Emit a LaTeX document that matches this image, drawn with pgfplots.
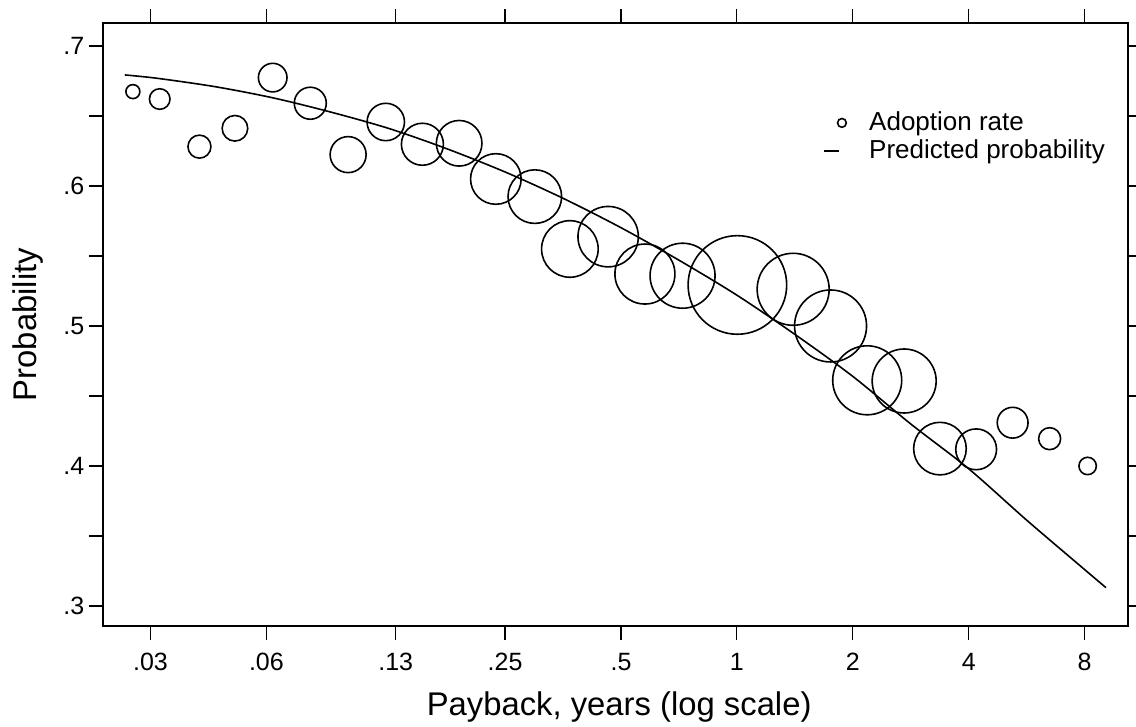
\documentclass[border=0pt]{standalone}
\usepackage{fontspec}
\setmainfont{Liberation Sans}
\usepackage{pgfplots}
\pgfplotsset{compat=1.18}
\usepackage{pgfplotstable}

\pgfplotstableread{
x y r
0.0270 0.6674 3.5
0.0317 0.6621 5.15
0.0402 0.6281 5.75
0.0497 0.6412 6.4
0.0623 0.6774 7.15
0.0780 0.6591 8.0
0.0978 0.6224 9.0
0.1225 0.6457 9.35
0.1525 0.6298 10.5
0.1900 0.6305 11.4
0.2366 0.6050 12.65
0.2987 0.5924 13.4
0.3684 0.5550 14.15
0.4631 0.5638 15.1
0.5770 0.5371 15.0
0.7227 0.5359 16.25
1.003 0.5293 24.65
1.400 0.5262 18.0
1.751 0.5000 18.0
2.180 0.4612 17.25
2.719 0.4607 16.0
3.368 0.4124 13.15
4.182 0.4119 10.2
5.202 0.4309 7.7
6.49 0.4195 5.5
8.146 0.4000 4.35
}\bubbles

\pgfplotstableread{
x y
0.02574 0.6793
0.03125 0.6769
0.04419 0.6709
0.0625 0.6629
0.08839 0.6527
0.125 0.6410
0.1768 0.6265
0.25 0.6100
0.3536 0.5912
0.5 0.5702
0.7071 0.5470
1 0.5220
1.4142 0.4940
2 0.4640
2.8284 0.4300
4 0.3980
5.6569 0.3613
8 0.3260
9.087 0.3131
}\curve

\begin{document}
\begin{tikzpicture}
\useasboundingbox (0,0) rectangle (568pt,363.5pt);
\begin{axis}[
  at={(51.65pt,50.5pt)}, anchor=south west,
  width=512.2pt, height=301.35pt, scale only axis,
  xmode=log, log basis x=2,
  xmin=0.02262, xmax=10.35, ymin=0.2857, ymax=0.7162,
  xtick={0.03,0.06,0.13,0.25,0.5,1,2,4,8},
  xticklabels={.03,.06,.13,.25,.5,1,2,4,8},
  minor xtick={},
  ytick={0.3,0.35,0.4,0.45,0.5,0.55,0.6,0.65,0.7},
  yticklabels={.3,,.4,,.5,,.6,,.7},
  tick align=outside, major tick length=7pt,
  tick style={black, line width=0.6pt},
  axis line style={black, line width=1pt},
  tick label style={font=\fontsize{12.5}{15}\selectfont},
  xticklabel style={yshift=-3pt},
  yticklabel style={xshift=1pt},
  xlabel={Payback, years (log scale)},
  ylabel={Probability},
  label style={font=\fontsize{16.4}{19}\selectfont},
  x label style={at={(axis description cs:0.5036,-0.1344)}, anchor=center},
  y label style={at={(axis description cs:-0.0735,0.5)}, anchor=center},
  legend style={at={(0.7026,0.8535)}, anchor=north west, draw=none, fill=none,
    inner sep=0pt, row sep=3pt, column sep=0pt,
    nodes={inner sep=0pt}, font=\fontsize{13}{15.6}\selectfont},
  legend cell align=left,
]
\addlegendimage{legend image code/.code={\path[draw=none,fill=none] (0pt,0pt) -- (22.5pt,0pt); \draw[black, line width=0.8pt] (8.85pt,0pt) circle (2.2pt);}}
\addlegendentry{Adoption rate}
\addlegendimage{legend image code/.code={\path[draw=none,fill=none] (0pt,0pt) -- (22.5pt,0pt); \draw[black, line width=0.8pt] (0pt,0pt) -- (7.5pt,0pt);}}
\addlegendentry{Predicted probability}

\addplot[forget plot, scatter, only marks, mark=o, black, line width=0.8pt,
  scatter/use mapped color={draw=black, fill=none},
  visualization depends on={\thisrow{r} \as \rr},
  scatter/@pre marker code/.append style={/tikz/mark size=\rr}]
  table[x=x, y=y] {\bubbles};

\addplot[forget plot, black, line width=0.8pt, smooth, tension=0.5, mark=none]
  table[x=x, y=y] {\curve};
\end{axis}
\end{tikzpicture}
\end{document}
